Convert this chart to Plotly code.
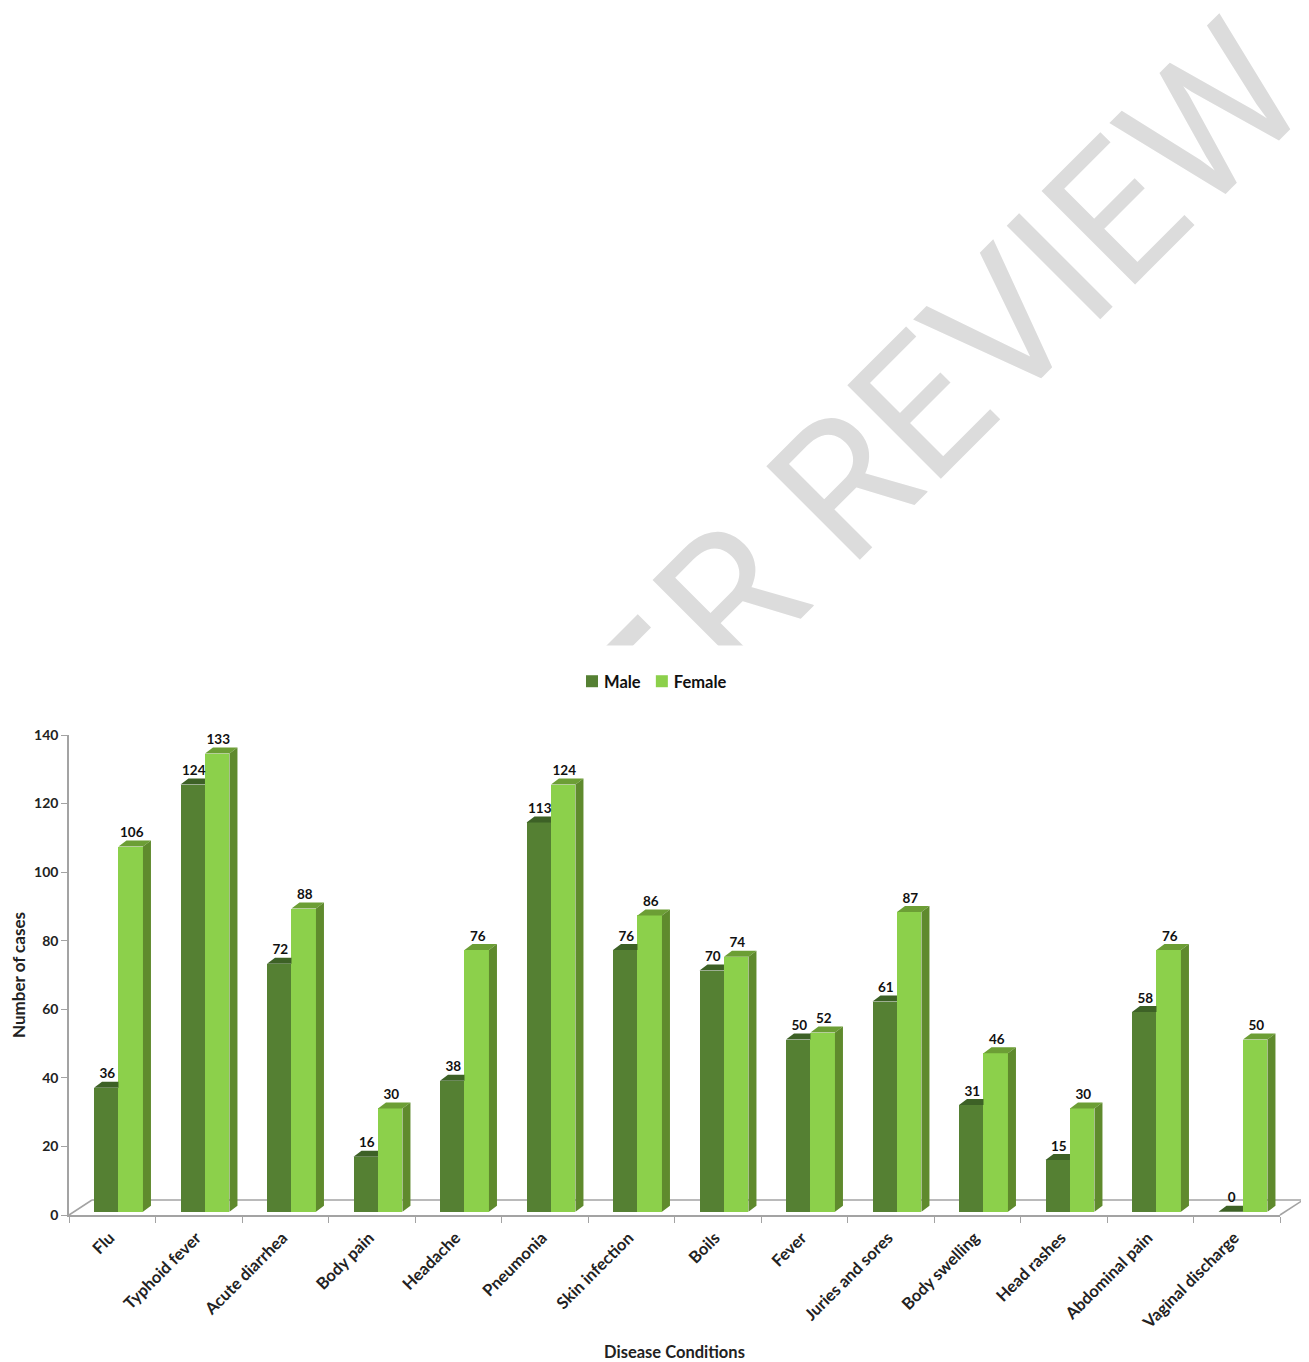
import plotly.graph_objects as go

categories = ["Flu", "Typhoid fever", "Acute diarrhea", "Body pain", "Headache", "Pneumonia",
              "Skin infection", "Boils", "Fever", "Juries and sores", "Body swelling",
              "Head rashes", "Abdominal pain", "Vaginal discharge"]
male = [36, 124, 72, 16, 38, 113, 76, 70, 50, 61, 31, 15, 58, 0]
female = [106, 133, 88, 30, 76, 124, 86, 74, 52, 87, 46, 30, 76, 50]
y_ticks = [0, 20, 40, 60, 80, 100, 120, 140]

PAGE = 8                             # the page body's default margin
W, H = 1309 - PAGE, 1362 - PAGE
L, R_, T, B = 69, 1280, 735, 1215    # plot area in page pixels
FONT = "Lato"
C_M, C_M_TOP = "#558033", "#3d6126"
C_F, C_F_SIDE, C_F_TOP = "#8cd04b", "#5f8a2d", "#6c9e35"
AXIS = "#a3a3a3"

n = len(categories)
U_Y = (B - T) / 140
U_X = (R_ - L) / n
DX, DY = 8 / U_X, 6 / U_Y            # bar depth in axis units
BASE = 3.2 / U_Y                     # front plane sits slightly above the axis
PERSP = 1.005                        # front plane is slightly larger than the wall scale
X0, X1, X2 = 0.289, 0.572, 0.855     # group geometry within each category

xm = [i + X0 for i in range(n)]
xb = [i + X1 for i in range(n)]
xf = [i + X2 for i in range(n)]
top_m = [BASE + v * PERSP for v in male]
top_f = [BASE + v * PERSP for v in female]

fig = go.Figure()

fig.add_trace(go.Bar(name="Male", x=xb, y=[v * PERSP for v in male], base=BASE, width=X1 - X0,
                     offset=-(X1 - X0), marker=dict(color=C_M, line_width=0)))
fig.add_trace(go.Bar(name="Female", x=xb, y=[v * PERSP for v in female], base=BASE, width=X2 - X1,
                     offset=0, marker=dict(color=C_F, line_width=0)))


def poly(fn, count):
    xs, ys = [], []
    for i in range(count):
        a, b = fn(i)
        xs += a + [a[0], None]
        ys += b + [b[0], None]
    return xs, ys


def face(fn, color):
    x, y = poly(fn, n)
    fig.add_trace(go.Scatter(x=x, y=y, mode="lines", fill="toself", fillcolor=color,
                             line=dict(width=0, color=color), showlegend=False,
                             hoverinfo="skip", cliponaxis=False))


face(lambda i: ([xm[i], xm[i] + DX, xb[i], xb[i]],
                [top_m[i], top_m[i] + DY, top_m[i] + DY, top_m[i]]), C_M_TOP)
face(lambda i: ([xb[i], xb[i] + DX, xf[i] + DX, xf[i]],
                [top_f[i], top_f[i] + DY, top_f[i] + DY, top_f[i]]), C_F_TOP)
face(lambda i: ([xf[i], xf[i] + DX, xf[i] + DX, xf[i]],
                [BASE, BASE + DY, top_f[i] + DY, top_f[i]]), C_F_SIDE)

lab_font = dict(family=FONT, size=13.5, color="#111111", weight="bold")
fig.add_trace(go.Scatter(x=[(a + b) / 2 + DX / 8 for a, b in zip(xm, xb)],
                         y=[t + DY for t in top_m], mode="text", text=[str(v) for v in male],
                         textposition="top center", textfont=lab_font, showlegend=False,
                         hoverinfo="skip", cliponaxis=False))
fig.add_trace(go.Scatter(x=[(a + b) / 2 + DX / 8 for a, b in zip(xb, xf)],
                         y=[t + DY for t in top_f], mode="text", text=[str(v) for v in female],
                         textposition="top center", textfont=lab_font, showlegend=False,
                         hoverinfo="skip", cliponaxis=False))


def px(v):
    return (v - L) / (R_ - L)


def py(v):
    return (B - v) / (B - T)


# chart floor, behind the bars and running past the end of the axis
fdx, fdy = 23, 15
fx = [px(L), px(L + fdx), px(R_ + fdx), px(R_)]
fy = [py(B), py(B - fdy), py(B - fdy), py(B)]
floor = [dict(type="line", xref="paper", yref="paper", layer="below",
              x0=fx[k], y0=fy[k], x1=fx[k + 1], y1=fy[k + 1],
              line=dict(color=AXIS, width=1.5)) for k in range(3)]

WM = "#dcdcdc"
annotations = [
    dict(text="R REVIEW", xref="paper", yref="paper", x=px(980), y=py(349), xanchor="center",
         yanchor="middle", textangle=-45, showarrow=False,
         font=dict(family="Roboto", size=186, color=WM)),
    dict(text="-", xref="paper", yref="paper", x=px(610), y=py(628), xanchor="center",
         yanchor="middle", textangle=-45, showarrow=False,
         font=dict(family="Liberation Sans", size=240, color=WM)),
    dict(text=" ", xref="paper", yref="paper", x=px(540), y=py(645), xanchor="left", yanchor="top",
         width=280, height=60, bgcolor="white", showarrow=False, borderpad=0,
         font=dict(size=10, color="white")),
]

fig.update_layout(
    width=W, height=H, autosize=False, paper_bgcolor="white", plot_bgcolor="rgba(0,0,0,0)",
    margin=dict(l=L - PAGE, r=W - (R_ - PAGE), t=T - PAGE, b=H - (B - PAGE)),
    barmode="overlay", bargap=0,
    font=dict(family=FONT, color="#222222"),
    showlegend=True,
    shapes=floor,
    legend=dict(orientation="h", xref="paper", yref="paper", x=px(564), y=py(664), xanchor="left",
                yanchor="top", bgcolor="rgba(0,0,0,0)", itemclick=False, traceorder="normal",
                font=dict(family=FONT, size=16.5, color="#111111", weight="bold")),
    xaxis=dict(range=[0, n], tickmode="array", tickvals=[i + 0.47 for i in range(n)],
               ticktext=categories, tickangle=-45, ticks="", showgrid=False, zeroline=False,
               showline=True, linecolor=AXIS, linewidth=1.5, ticklabelstandoff=5,
               tickfont=dict(family=FONT, size=16.5, color="#222222", weight="bold"),
               minor=dict(tickmode="array", tickvals=list(range(n + 1)), ticks="outside",
                          ticklen=6, tickcolor=AXIS, tickwidth=1, showgrid=False),
               title=dict(text="Disease Conditions", standoff=78,
                          font=dict(family=FONT, size=16.5, color="#222222", weight="bold")),
               automargin=False),
    yaxis=dict(range=[0, 140], tickmode="array", tickvals=y_ticks, ticks="outside", ticklen=6,
               tickcolor=AXIS, showgrid=False, zeroline=False, showline=True, linecolor=AXIS,
               linewidth=1.5, tickfont=dict(family=FONT, size=14, color="#222222", weight="bold"),
               title=dict(text="Number of cases", standoff=10,
                          font=dict(family=FONT, size=17, color="#222222", weight="bold")),
               automargin=False),
    annotations=annotations,
)

fig.write_html("out.html", config={"displayModeBar": False}, post_script="""
var l=document.querySelector('.infolayer .legend');
if(l){l.parentNode.appendChild(l);
l.querySelectorAll('.legendpoints').forEach(function(p){p.setAttribute('transform','translate(8,0)');});
var t=l.querySelectorAll('.traces');
if(t[1]){t[1].setAttribute('transform',t[1].getAttribute('transform').replace(/translate\\(([-\\d.]+)/,function(m,a){return 'translate('+(parseFloat(a)-12);}));}}
""")
